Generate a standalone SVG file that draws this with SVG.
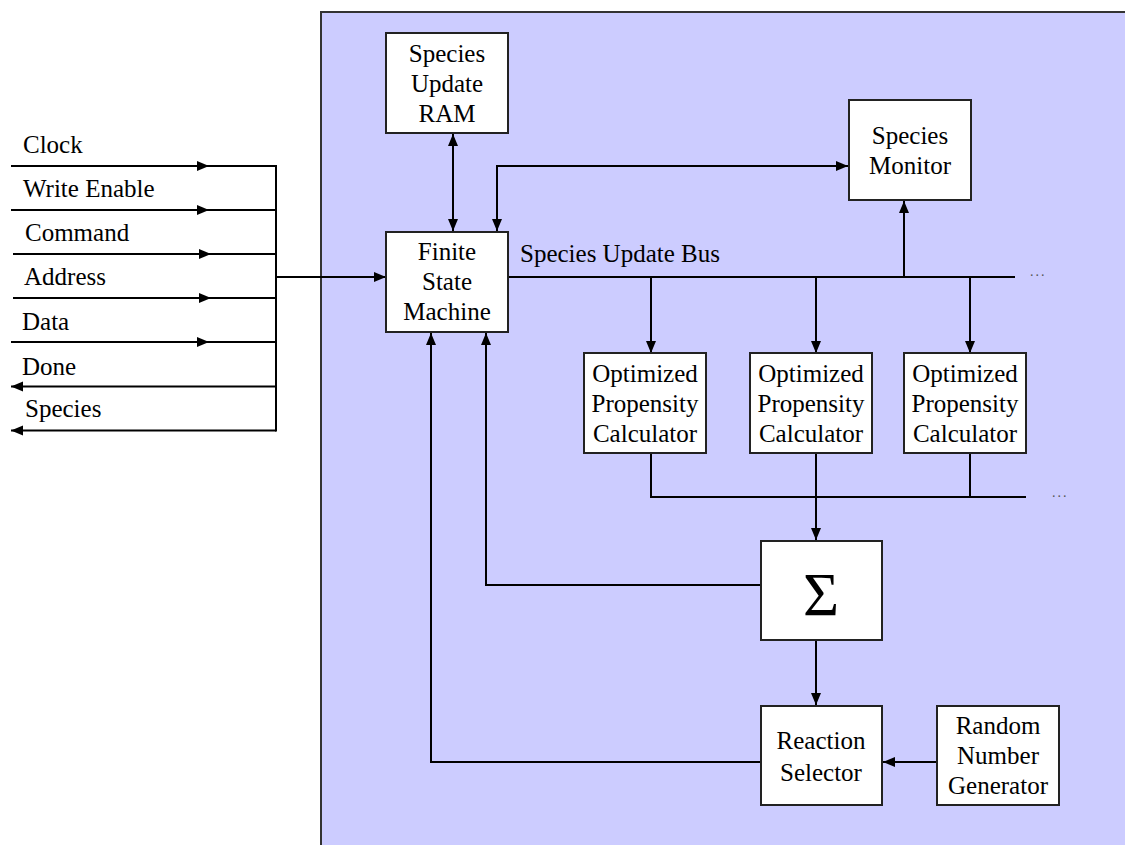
<svg xmlns="http://www.w3.org/2000/svg" width="1125" height="845" viewBox="0 0 1125 845">
<defs>
<marker id="ah" markerUnits="userSpaceOnUse" markerWidth="13" markerHeight="11" refX="12" refY="5.5" orient="auto" viewBox="0 0 13 11">
<path d="M0,0.5 L12,5.5 L0,10.5 z" fill="#000"/>
</marker>
<marker id="ahs" markerUnits="userSpaceOnUse" markerWidth="13" markerHeight="11" refX="12" refY="5.5" orient="auto-start-reverse" viewBox="0 0 13 11">
<path d="M0,0.5 L12,5.5 L0,10.5 z" fill="#000"/>
</marker>
</defs>
<rect width="1125" height="845" fill="#fff"/>
<rect id="panel" x="321" y="12" width="820" height="850" fill="#ccccff" stroke="#333" stroke-width="2"/>

<g id="connectors" fill="none" stroke="#000" stroke-width="2">
<path d="M11,166 L209,166 L276,166" marker-mid="url(#ah)"/>
<path d="M11,210 L209,210 L276,210" marker-mid="url(#ah)"/>
<path d="M13,254 L211,254 L276,254" marker-mid="url(#ah)"/>
<path d="M13,298 L211,298 L276,298" marker-mid="url(#ah)"/>
<path d="M11,342 L209,342 L276,342" marker-mid="url(#ah)"/>
<path d="M276,386.5 L11,386.5" marker-end="url(#ah)"/>
<path d="M276,430.5 L11,430.5" marker-end="url(#ah)"/>
<path d="M276,165 L276,431.5"/>
<path d="M276,277 L386,277" marker-end="url(#ah)"/>
<path d="M453,134 L453,231" marker-start="url(#ahs)" marker-end="url(#ahs)"/>
<path d="M497,231 L497,166 L848,166" marker-start="url(#ahs)" marker-end="url(#ahs)"/>
<path d="M508,277 L1015,277"/>
<path d="M904,277 L904,201" marker-end="url(#ah)"/>
<path d="M651,277 L651,353" marker-end="url(#ah)"/>
<path d="M816,277 L816,353" marker-end="url(#ah)"/>
<path d="M970,277 L970,353" marker-end="url(#ah)"/>
<path d="M651,453 L651,497 L1026,497"/>
<path d="M970,453 L970,497"/>
<path d="M816,453 L816,540" marker-end="url(#ah)"/>
<path d="M761,585 L486,585 L486,333" marker-end="url(#ah)"/>
<path d="M816,640 L816,705" marker-end="url(#ah)"/>
<path d="M761,762 L431,762 L431,333" marker-end="url(#ah)"/>
<path d="M937,762 L883,762" marker-end="url(#ah)"/>
</g>

<g id="labels">
<text x="23" y="153" font-family="Liberation Serif" font-size="25">Clock</text>
<text x="23" y="197" font-family="Liberation Serif" font-size="25">Write Enable</text>
<text x="25" y="241" font-family="Liberation Serif" font-size="25">Command</text>
<text x="24" y="285" font-family="Liberation Serif" font-size="25">Address</text>
<text x="22" y="330" font-family="Liberation Serif" font-size="25">Data</text>
<text x="22" y="375" font-family="Liberation Serif" font-size="25">Done</text>
<text x="25" y="417" font-family="Liberation Serif" font-size="25">Species</text>
<text x="520" y="262" font-family="Liberation Serif" font-size="25">Species Update Bus</text>
<text x="1030" y="276" font-family="Liberation Serif" font-size="14" fill="#555" letter-spacing="2">...</text>
<text x="1052" y="497" font-family="Liberation Serif" font-size="14" fill="#555" letter-spacing="2">...</text>
</g>

<g id="ram" text-anchor="middle">
<rect x="386" y="33" width="122" height="100" fill="#fff" stroke="#222" stroke-width="2"/>
<text x="447" y="62" font-family="Liberation Serif" font-size="25">Species</text>
<text x="447" y="92" font-family="Liberation Serif" font-size="25">Update</text>
<text x="447" y="122" font-family="Liberation Serif" font-size="25">RAM</text>
</g>

<g id="fsm" text-anchor="middle">
<rect x="386" y="232" width="122" height="100" fill="#fff" stroke="#222" stroke-width="2"/>
<text x="447" y="260" font-family="Liberation Serif" font-size="25">Finite</text>
<text x="447" y="290" font-family="Liberation Serif" font-size="25">State</text>
<text x="447" y="320" font-family="Liberation Serif" font-size="25">Machine</text>
</g>

<g id="monitor" text-anchor="middle">
<rect x="849" y="100" width="122" height="100" fill="#fff" stroke="#222" stroke-width="2"/>
<text x="910" y="144" font-family="Liberation Serif" font-size="25">Species</text>
<text x="910" y="174" font-family="Liberation Serif" font-size="25">Monitor</text>
</g>

<g id="opc1" text-anchor="middle">
<rect x="584" y="353" width="122" height="100" fill="#fff" stroke="#222" stroke-width="2"/>
<text x="645" y="382" font-family="Liberation Serif" font-size="25">Optimized</text>
<text x="645" y="412" font-family="Liberation Serif" font-size="25">Propensity</text>
<text x="645" y="442" font-family="Liberation Serif" font-size="25">Calculator</text>
</g>
<g id="opc2" text-anchor="middle">
<rect x="750" y="353" width="122" height="100" fill="#fff" stroke="#222" stroke-width="2"/>
<text x="811" y="382" font-family="Liberation Serif" font-size="25">Optimized</text>
<text x="811" y="412" font-family="Liberation Serif" font-size="25">Propensity</text>
<text x="811" y="442" font-family="Liberation Serif" font-size="25">Calculator</text>
</g>
<g id="opc3" text-anchor="middle">
<rect x="904" y="353" width="122" height="100" fill="#fff" stroke="#222" stroke-width="2"/>
<text x="965" y="382" font-family="Liberation Serif" font-size="25">Optimized</text>
<text x="965" y="412" font-family="Liberation Serif" font-size="25">Propensity</text>
<text x="965" y="442" font-family="Liberation Serif" font-size="25">Calculator</text>
</g>

<g id="sum" text-anchor="middle">
<rect x="761" y="541" width="121" height="99" fill="#fff" stroke="#222" stroke-width="2"/>
<text x="821" y="615" font-family="Liberation Serif" font-size="62">Σ</text>
</g>

<g id="selector" text-anchor="middle">
<rect x="761" y="706" width="121" height="99" fill="#fff" stroke="#222" stroke-width="2"/>
<text x="821" y="749" font-family="Liberation Serif" font-size="25">Reaction</text>
<text x="821" y="781" font-family="Liberation Serif" font-size="25">Selector</text>
</g>

<g id="rng" text-anchor="middle">
<rect x="937" y="706" width="122" height="99" fill="#fff" stroke="#222" stroke-width="2"/>
<text x="998" y="734" font-family="Liberation Serif" font-size="25">Random</text>
<text x="998" y="764" font-family="Liberation Serif" font-size="25">Number</text>
<text x="998" y="794" font-family="Liberation Serif" font-size="25">Generator</text>
</g>
</svg>
